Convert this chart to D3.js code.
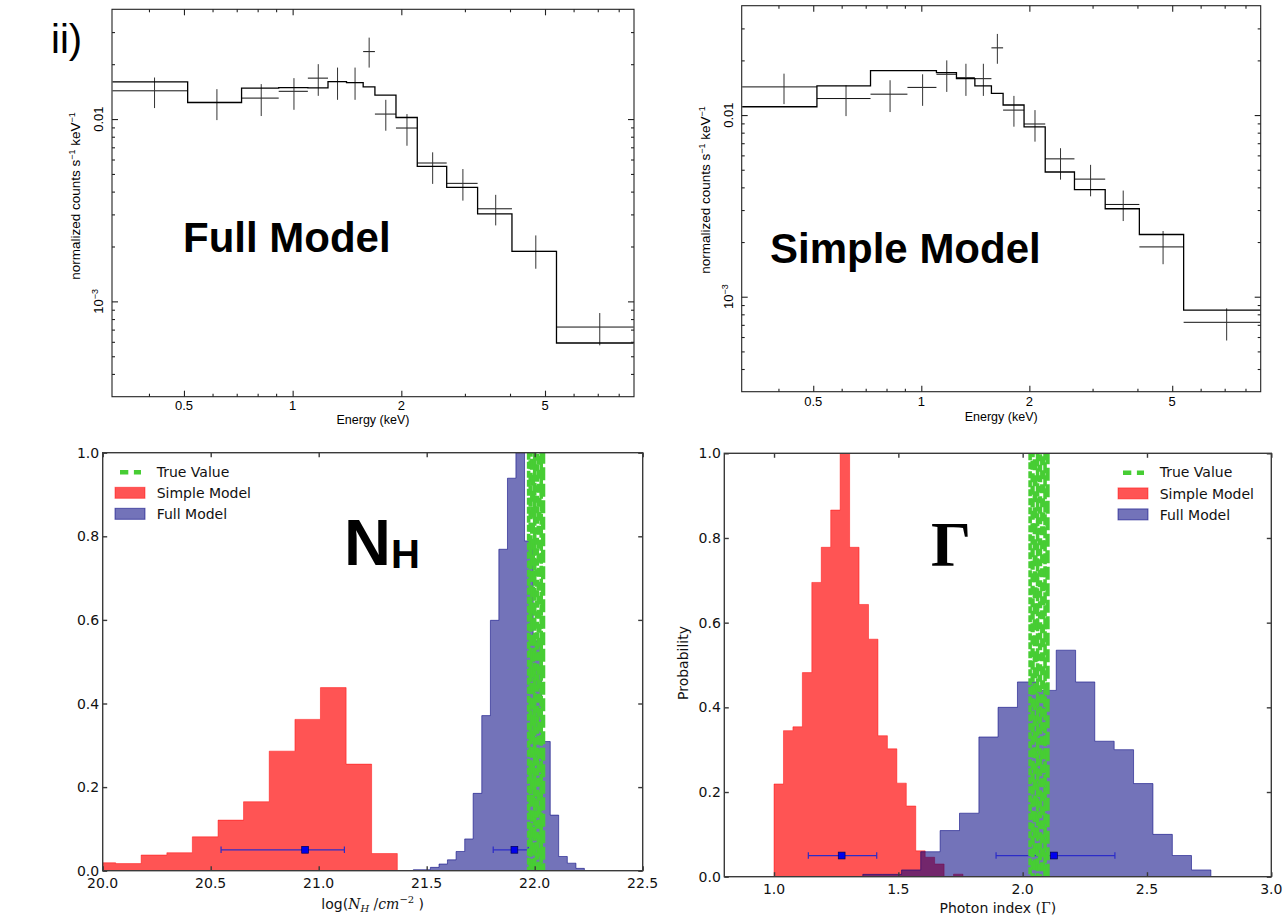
<!DOCTYPE html>
<html>
<head>
<meta charset="utf-8">
<title>X-ray spectral fits and parameter posteriors</title>
<script src="https://cdn.jsdelivr.net/npm/d3@7/dist/d3.min.js"></script>
<style>
  html, body { margin: 0; padding: 0; background: #fff; }
  svg { display: block; }
</style>
</head>
<body>
<svg id="fig" width="1283" height="916"></svg>
<script>
// ---------- Spectra: energy bins (keV) and normalized counts s^-1 keV^-1 ----------
const energyEdges = [0.317, 0.512, 0.722, 0.915, 1.102, 1.253, 1.41, 1.568, 1.69, 1.933, 2.214, 2.671, 3.253, 4.05, 5.38, 8.8];
const obsRate   = [0.01429, 0.01233, 0.01303, 0.01420, 0.01677, 0.01606, 0.01586, 0.02344, 0.01065, 0.00893, 0.00574, 0.00444, 0.00322, 0.00188, 0.000723];
const obsRateLo = [0.01149, 0.00987, 0.01039, 0.01124, 0.01341, 0.01275, 0.01275, 0.01916, 0.00863, 0.00714, 0.00441, 0.00357, 0.00261, 0.00151, 0.000574];
const obsRateHi = [0.01690, 0.01459, 0.01555, 0.01677, 0.02000, 0.01916, 0.01916, 0.02797, 0.01275, 0.01065, 0.00657, 0.00532, 0.00384, 0.00230, 0.000863];
const fullModelRate   = [0.01600, 0.01233, 0.01478, 0.01489, 0.01483, 0.01606, 0.01586, 0.01502, 0.01353, 0.01020, 0.00550, 0.00422, 0.00302, 0.00188, 0.000591];
const simpleModelRate = [0.01111, 0.01446, 0.01757, 0.01757, 0.01713, 0.01587, 0.01446, 0.01318, 0.01136, 0.00862, 0.00486, 0.00389, 0.00305, 0.00220, 0.000844];

const energyDomain = [0.316, 8.82];
const rateDomain = [3.0e-4, 0.040];
const energyMajorTicks = [0.5, 1, 2, 5];
const energyMinorTicks = [0.4, 0.6, 0.7, 0.8, 0.9, 3, 4, 6, 7, 8];
const rateMajorTicks = [1e-3, 1e-2];
const rateMinorTicks = [4e-4, 5e-4, 6e-4, 7e-4, 8e-4, 9e-4, 2e-3, 3e-3, 4e-3, 5e-3, 6e-3, 7e-3, 8e-3, 9e-3, 0.02, 0.03];

// ---------- Posterior histograms: log N_H ----------
const nhSimpleEdges = [19.941, 20.060, 20.178, 20.297, 20.415, 20.534, 20.652, 20.771, 20.890, 21.008, 21.127, 21.245, 21.364];
const nhSimpleProb  = [0.019, 0.017, 0.0375, 0.043, 0.081, 0.121, 0.165, 0.286, 0.362, 0.438, 0.255, 0.041];
const nhFullEdges = [21.438, 21.478, 21.517, 21.557, 21.596, 21.636, 21.676, 21.715, 21.755, 21.795, 21.834, 21.874, 21.913, 21.953, 21.993, 22.032, 22.072, 22.111, 22.151, 22.191, 22.230];
const nhFullProb  = [0.0024, 0.0024, 0.008, 0.016, 0.026, 0.046, 0.076, 0.185, 0.371, 0.599, 0.769, 0.939, 1.0, 0.789, 0.55, 0.309, 0.133, 0.034, 0.018, 0.0056];
const nhSimpleFit = { value: 20.937, lo: 20.548, hi: 21.119 };
const nhFullFit   = { value: 21.906, lo: 21.808, hi: 21.970 };
const nhTrue = [21.972, 21.981, 21.990, 22.000, 22.010, 22.020, 22.030, 22.039];
const nhTicks = [20.0, 20.5, 21.0, 21.5, 22.0, 22.5];

// ---------- Posterior histograms: photon index ----------
const gamSimpleEdges = [1.000, 1.038, 1.076, 1.114, 1.152, 1.190, 1.228, 1.266, 1.304, 1.342, 1.380, 1.418, 1.456, 1.494, 1.532, 1.570, 1.608, 1.646, 1.684, 1.722, 1.760];
const gamSimpleProb  = [0.219, 0.345, 0.354, 0.482, 0.695, 0.778, 0.866, 1.0, 0.778, 0.643, 0.561, 0.333, 0.302, 0.221, 0.167, 0.061, 0.046, 0.030, 0.0, 0.006];
const gamFullEdges = [1.357, 1.435, 1.513, 1.590, 1.668, 1.746, 1.824, 1.901, 1.979, 2.057, 2.135, 2.213, 2.290, 2.368, 2.446, 2.524, 2.602, 2.679, 2.757];
const gamFullProb  = [0.0055, 0.0055, 0.016, 0.059, 0.109, 0.150, 0.33, 0.40, 0.46, 0.44, 0.535, 0.46, 0.32, 0.30, 0.22, 0.10, 0.05, 0.016];
const gamSimpleFit = { value: 1.272, lo: 1.138, hi: 1.413 };
const gamFullFit   = { value: 2.126, lo: 1.893, hi: 2.371 };
const gamTrue = [2.030, 2.040, 2.050, 2.060, 2.070, 2.080, 2.090, 2.100];
const gamTicks = [1.0, 1.5, 2.0, 2.5, 3.0];

const probTicks = [0.0, 0.2, 0.4, 0.6, 0.8, 1.0];
const legendLabels = ['True Value', 'Simple Model', 'Full Model'];

// ---------- styling ----------
const SANS = "'Liberation Sans', Arial, Helvetica, sans-serif";
const MPL = "'DejaVu Sans', sans-serif";
const SERIF = "'DejaVu Serif', serif";
const RED_FILL = 'rgba(255,0,0,0.67)';
const BLUE_FILL = 'rgba(0,0,128,0.55)';
const GREEN = '#47cd34';
const ERR_LINE = '#2c2cc8';
const ERR_MARK = '#0000ee';

const svg = d3.select('#fig');
const defs = svg.append('defs');
let clipCount = 0;

function clipFor(box) {
  const id = 'plotclip' + (++clipCount);
  defs.append('clipPath').attr('id', id).append('rect')
    .attr('x', box.left).attr('y', box.top)
    .attr('width', box.right - box.left).attr('height', box.bottom - box.top);
  return `url(#${id})`;
}

// inward ticks on all four sides plus the frame
function frameTicks(g, x, y, box, sets, color, width) {
  sets.forEach(s => {
    const axX = s.axis === 'x';
    const scale = axX ? x : y;
    const gens = axX
      ? [[d3.axisBottom, `translate(0,${box.bottom})`], [d3.axisTop, `translate(0,${box.top})`]]
      : [[d3.axisLeft, `translate(${box.left},0)`], [d3.axisRight, `translate(${box.right},0)`]];
    gens.forEach(([gen, tr]) => {
      const a = g.append('g').attr('transform', tr)
        .call(gen(scale).tickValues(s.values).tickSize(-s.len).tickFormat(''));
      a.select('.domain').remove();
      a.selectAll('.tick text').remove();
      a.selectAll('.tick line').attr('stroke', color).attr('stroke-width', width);
    });
  });
  g.append('rect')
    .attr('x', box.left).attr('y', box.top)
    .attr('width', box.right - box.left).attr('height', box.bottom - box.top)
    .attr('fill', 'none').attr('stroke', color).attr('stroke-width', width);
}

// ---------- spectrum panels ----------
function spectrumPanel(box, modelRate, title, titlePos, labelShift) {
  const x = d3.scaleLog().domain(energyDomain).range([box.left, box.right]);
  const y = d3.scaleLog().domain(rateDomain).range([box.bottom, box.top]);
  const g = svg.append('g');
  const plot = g.append('g').attr('clip-path', clipFor(box));

  // data crosses
  const bins = obsRate.map((r, i) => ({
    lo: energyEdges[i], hi: energyEdges[i + 1], mid: (energyEdges[i] + energyEdges[i + 1]) / 2,
    r, eLo: obsRateLo[i], eHi: obsRateHi[i]
  }));
  plot.selectAll('line.xbar').data(bins).join('line').attr('class', 'xbar')
    .attr('x1', d => x(d.lo)).attr('x2', d => x(d.hi))
    .attr('y1', d => y(d.r)).attr('y2', d => y(d.r))
    .attr('stroke', '#111').attr('stroke-width', 1);
  plot.selectAll('line.ybar').data(bins).join('line').attr('class', 'ybar')
    .attr('x1', d => x(d.mid)).attr('x2', d => x(d.mid))
    .attr('y1', d => y(d.eLo)).attr('y2', d => y(d.eHi))
    .attr('stroke', '#333').attr('stroke-width', 1);

  // folded model as a step line
  const pts = [];
  modelRate.forEach((m, i) => { pts.push([energyEdges[i], m], [energyEdges[i + 1], m]); });
  plot.append('path')
    .attr('d', d3.line().x(d => x(d[0])).y(d => y(d[1]))(pts))
    .attr('fill', 'none').attr('stroke', '#000').attr('stroke-width', 1.3);

  frameTicks(g, x, y, box, [
    { axis: 'x', values: energyMajorTicks, len: 6 },
    { axis: 'x', values: energyMinorTicks, len: 3 },
    { axis: 'y', values: rateMajorTicks, len: 6 },
    { axis: 'y', values: rateMinorTicks, len: 3 }
  ], '#222', 1.1);

  // x tick labels
  g.selectAll('text.xt').data(energyMajorTicks).join('text').attr('class', 'xt')
    .attr('x', d => x(d)).attr('y', box.bottom + labelShift.tick)
    .attr('text-anchor', 'middle').attr('font-family', SANS).attr('font-size', 13)
    .text(d => d3.format('')(d));
  g.append('text')
    .attr('x', (box.left + box.right) / 2).attr('y', box.bottom + labelShift.xlabel)
    .attr('text-anchor', 'middle').attr('font-family', SANS).attr('font-size', 12.5)
    .text('Energy (keV)');

  // rotated y tick labels
  const ytl = box.left - 9;
  g.append('text').attr('transform', `translate(${ytl},${y(1e-2)}) rotate(-90)`)
    .attr('text-anchor', 'middle').attr('font-family', SANS).attr('font-size', 13).text('0.01');
  const t2 = g.append('text').attr('transform', `translate(${ytl},${y(1e-3)}) rotate(-90)`)
    .attr('text-anchor', 'middle').attr('font-family', SANS).attr('font-size', 13);
  t2.append('tspan').text('10');
  t2.append('tspan').attr('dy', -5).attr('font-size', 9).text('\u22123');

  // y axis label
  const yl = g.append('text')
    .attr('transform', `translate(${box.left - 32},${labelShift.ylabelY}) rotate(-90)`)
    .attr('text-anchor', 'middle').attr('font-family', SANS).attr('font-size', 13.5);
  yl.append('tspan').text('normalized counts s');
  yl.append('tspan').attr('dy', -5).attr('font-size', 9).text('\u22121');
  yl.append('tspan').attr('dy', 5).text(' keV');
  yl.append('tspan').attr('dy', -5).attr('font-size', 9).text('\u22121');

  svg.append('text').attr('x', titlePos[0]).attr('y', titlePos[1])
    .attr('font-family', SANS).attr('font-weight', 'bold').attr('font-size', 42)
    .attr('fill', '#000').text(title);
}

spectrumPanel({ left: 112, right: 634, top: 9.3, bottom: 396.7 }, fullModelRate,
  'Full Model', [183, 252], { tick: 13.3, xlabel: 27.6, ylabelY: 196 });
spectrumPanel({ left: 741.7, right: 1260.7, top: 5.7, bottom: 391.7 }, simpleModelRate,
  'Simple Model', [770, 263], { tick: 14.3, xlabel: 29.5, ylabelY: 190 });

svg.append('text').attr('x', 51).attr('y', 53)
  .attr('font-family', SANS).attr('font-size', 40).text('ii)');

// ---------- posterior panels ----------
function stepPoints(edges, probs) {
  const pts = [[edges[0], 0]];
  probs.forEach((p, i) => { pts.push([edges[i], p], [edges[i + 1], p]); });
  pts.push([edges[edges.length - 1], 0]);
  return pts;
}

function posteriorPanel(cfg) {
  const { box } = cfg;
  const x = d3.scaleLinear().domain(cfg.xDomain).range([box.left, box.right]);
  const y = d3.scaleLinear().domain([0, 1]).range([box.bottom, box.top]);
  const g = svg.append('g');
  const plot = g.append('g').attr('clip-path', clipFor(box));
  const line = d3.line().x(d => x(d[0])).y(d => y(d[1]));

  plot.append('path').attr('d', line(stepPoints(cfg.simpleEdges, cfg.simpleProb)) + 'Z')
    .attr('fill', RED_FILL).attr('stroke', 'rgba(255,0,0,0.45)').attr('stroke-width', 1);
  plot.append('path').attr('d', line(stepPoints(cfg.fullEdges, cfg.fullProb)) + 'Z')
    .attr('fill', BLUE_FILL).attr('stroke', 'rgba(0,0,128,0.55)').attr('stroke-width', 1);

  // error bars with square markers at the best fit
  [cfg.simpleFit, cfg.fullFit].forEach(f => {
    const yy = y(0.05);
    plot.append('line').attr('x1', x(f.lo)).attr('x2', x(f.hi)).attr('y1', yy).attr('y2', yy)
      .attr('stroke', ERR_LINE).attr('stroke-width', 1.2);
    [f.lo, f.hi].forEach(v => plot.append('line')
      .attr('x1', x(v)).attr('x2', x(v)).attr('y1', yy - 3.2).attr('y2', yy + 3.2)
      .attr('stroke', ERR_LINE).attr('stroke-width', 1.2));
    plot.append('rect').attr('x', x(f.value) - 3.4).attr('y', yy - 3.4)
      .attr('width', 6.8).attr('height', 6.8)
      .attr('fill', ERR_MARK).attr('stroke', '#000055').attr('stroke-width', 0.7);
  });

  // true-value lines (dashed, overlapping into a band)
  plot.selectAll('line.truth').data(cfg.trueVals).join('line').attr('class', 'truth')
    .attr('x1', d => x(d)).attr('x2', d => x(d))
    .attr('y1', box.top).attr('y2', box.bottom)
    .attr('stroke', GREEN).attr('stroke-width', (d, i) => 3.6 + (i % 3) * 0.7)
    .attr('stroke-dasharray', (d, i) => [7 + (i % 4) * 2, 2 + (i % 3) * 1.5].join(','))
    .attr('stroke-dashoffset', (d, i) => i * 5);

  frameTicks(g, x, y, box, [
    { axis: 'x', values: cfg.xTicks, len: 4.5 },
    { axis: 'y', values: probTicks, len: 4.5 }
  ], '#3a3a3a', 1.4);

  g.selectAll('text.xt').data(cfg.xTicks).join('text').attr('class', 'xt')
    .attr('x', d => x(d)).attr('y', box.bottom + 17)
    .attr('text-anchor', 'middle').attr('font-family', MPL).attr('font-size', 14)
    .attr('fill', '#111').text(d => d3.format('.1f')(d));
  g.selectAll('text.yt').data(probTicks).join('text').attr('class', 'yt')
    .attr('x', box.left - 3.5).attr('y', d => y(d) + 5)
    .attr('text-anchor', 'end').attr('font-family', MPL).attr('font-size', 14)
    .attr('fill', '#111').text(d => d3.format('.1f')(d));

  // legend
  const lx = cfg.legendX, ly = box.top;
  g.append('line').attr('x1', lx + 5).attr('x2', lx + 26)
    .attr('y1', ly + 19.5).attr('y2', ly + 19.5)
    .attr('stroke', GREEN).attr('stroke-width', 4.5).attr('stroke-dasharray', '8.3,5.6');
  g.append('rect').attr('x', lx).attr('y', ly + 34.6).attr('width', 30).attr('height', 11)
    .attr('fill', RED_FILL).attr('stroke', 'rgba(255,0,0,0.45)');
  g.append('rect').attr('x', lx).attr('y', ly + 55.6).attr('width', 30).attr('height', 11)
    .attr('fill', BLUE_FILL).attr('stroke', 'rgba(0,0,128,0.55)');
  g.selectAll('text.lg').data(legendLabels).join('text').attr('class', 'lg')
    .attr('x', lx + 41.7).attr('y', (d, i) => ly + 24 + i * 21.2)
    .attr('font-family', MPL).attr('font-size', 14).attr('fill', '#111').text(d => d);

  return { g, x, y };
}

posteriorPanel({
  box: { left: 102.7, right: 642.7, top: 452.7, bottom: 870.7 },
  xDomain: [20.0, 22.5], xTicks: nhTicks,
  simpleEdges: nhSimpleEdges, simpleProb: nhSimpleProb,
  fullEdges: nhFullEdges, fullProb: nhFullProb,
  simpleFit: nhSimpleFit, fullFit: nhFullFit, trueVals: nhTrue,
  legendX: 115
});

posteriorPanel({
  box: { left: 724.3, right: 1271.3, top: 453.3, bottom: 876.7 },
  xDomain: [0.8, 3.0], xTicks: gamTicks,
  simpleEdges: gamSimpleEdges, simpleProb: gamSimpleProb,
  fullEdges: gamFullEdges, fullProb: gamFullProb,
  simpleFit: gamSimpleFit, fullFit: gamFullFit, trueVals: gamTrue,
  legendX: 1118
});

// axis labels of the posterior panels
const nhLab = svg.append('text').attr('x', 372.7).attr('y', 909)
  .attr('text-anchor', 'middle').attr('font-family', MPL).attr('font-size', 14).attr('fill', '#111');
nhLab.append('tspan').text('log(');
nhLab.append('tspan').attr('font-family', SERIF).attr('font-style', 'italic').text('N');
nhLab.append('tspan').attr('font-family', SERIF).attr('font-style', 'italic').attr('font-size', 10).attr('dy', 3).text('H');
nhLab.append('tspan').attr('font-family', SERIF).attr('dy', -3).text(' /');
nhLab.append('tspan').attr('font-family', SERIF).attr('font-style', 'italic').text('cm');
nhLab.append('tspan').attr('font-family', SERIF).attr('font-size', 10).attr('dy', -6).text('\u22122');
nhLab.append('tspan').attr('dy', 6).text(' )');

const gLab = svg.append('text').attr('x', 997.8).attr('y', 913)
  .attr('text-anchor', 'middle').attr('font-family', MPL).attr('font-size', 14).attr('fill', '#111');
gLab.append('tspan').text('Photon index (');
gLab.append('tspan').attr('font-family', SERIF).text('\u0393');
gLab.append('tspan').text(')');

svg.append('text').attr('transform', 'translate(688,663) rotate(-90)')
  .attr('text-anchor', 'middle').attr('font-family', MPL).attr('font-size', 14)
  .attr('fill', '#111').text('Probability');

// parameter names
const nhName = svg.append('text').attr('x', 344).attr('y', 565)
  .attr('font-family', SANS).attr('font-weight', 'bold').attr('font-size', 65).attr('fill', '#000');
nhName.append('tspan').text('N');
nhName.append('tspan').attr('font-size', 40).attr('dy', 3).text('H');

svg.append('text').attr('x', 931).attr('y', 566)
  .attr('font-family', "'Liberation Serif', 'Times New Roman', serif").attr('font-weight', 'bold')
  .attr('font-size', 63).attr('fill', '#000').text('\u0393');
</script>
</body>
</html>
